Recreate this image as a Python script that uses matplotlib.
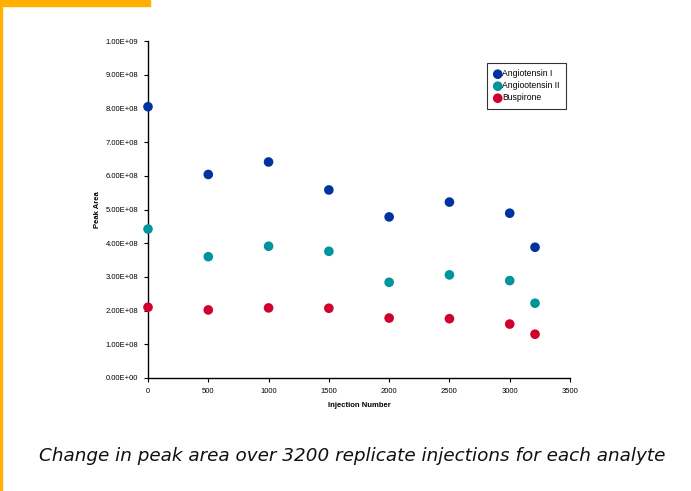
import numpy as np
import matplotlib
matplotlib.use("Agg")
import matplotlib.pyplot as plt
from matplotlib.patches import Rectangle
from matplotlib.ticker import FuncFormatter

# injection number vs peak area for each analyte
injections = [0, 500, 1000, 1500, 2000, 2500, 3000, 3210]
angiotensin_1 = [8.05e8, 6.04e8, 6.41e8, 5.58e8, 4.78e8, 5.22e8, 4.89e8, 3.88e8]
angiotensin_2 = [4.42e8, 3.60e8, 3.91e8, 3.76e8, 2.84e8, 3.06e8, 2.89e8, 2.22e8]
buspirone = [2.10e8, 2.02e8, 2.08e8, 2.07e8, 1.78e8, 1.76e8, 1.60e8, 1.30e8]

series_names = ["Angiotensin I", "Angiootensin II", "Buspirone"]
series_colors = ["#0033a0", "#00959c", "#d0002f"]

x_ticks = [0, 500, 1000, 1500, 2000, 2500, 3000, 3500]
y_ticks = np.arange(0, 1.01e9, 1e8)

caption = "Change in peak area over 3200 replicate injections for each analyte"

plt.rcParams["font.family"] = ["Liberation Sans", "DejaVu Sans"]

fig = plt.figure(figsize=(6.91, 4.91), dpi=100)

# orange slide decoration: bar on top-left and thin line down the left edge
fig.patches.append(Rectangle((0, 1 - 6 / 491), 150 / 691, 6 / 491,
                             transform=fig.transFigure, color="#ffb000", zorder=0))
fig.patches.append(Rectangle((0, 0), 1.5 / 691, 1,
                             transform=fig.transFigure, color="#ffb000", zorder=0))

ax = fig.add_axes([148 / 691, 1 - 378 / 491, 422 / 691, 337 / 491])

for vals, name, col in zip([angiotensin_1, angiotensin_2, buspirone], series_names, series_colors):
    ax.scatter(injections, vals, s=48, color=col, label=name, zorder=3,
               edgecolors="none", clip_on=False)

ax.set_xlim(0, 3500)
ax.set_ylim(0, 1e9)
ax.set_xticks(x_ticks)
ax.set_yticks(y_ticks)
ax.yaxis.set_major_formatter(FuncFormatter(lambda v, p: f"{v:.2E}"))

for side in ["top", "right"]:
    ax.spines[side].set_visible(False)
for side in ["left", "bottom"]:
    ax.spines[side].set_linewidth(1.0)

ax.tick_params(axis="both", direction="out", length=3, width=0.8, labelsize=5.5, pad=4)

ax.set_xlabel("Injection Number", fontsize=5.5, fontweight="bold", labelpad=5)
ax.set_ylabel("Peak Area", fontsize=5.5, fontweight="bold", labelpad=3)

leg = ax.legend(loc="upper left", bbox_to_anchor=((487 - 148) / 422, 1 - (63 - 41) / 337),
                fontsize=6.2, frameon=True, fancybox=False, edgecolor="black",
                handletextpad=0.0, borderpad=0.75, labelspacing=0.35,
                handlelength=1.0, markerscale=1.0, borderaxespad=0)
leg.get_frame().set_linewidth(0.8)

fig.text(352.5 / 691, 1 - 456 / 491, caption, ha="center", va="center",
         fontsize=13.2, style="italic", family=["DejaVu Sans"], color="#111111")

fig.savefig("out.png", dpi=100)
